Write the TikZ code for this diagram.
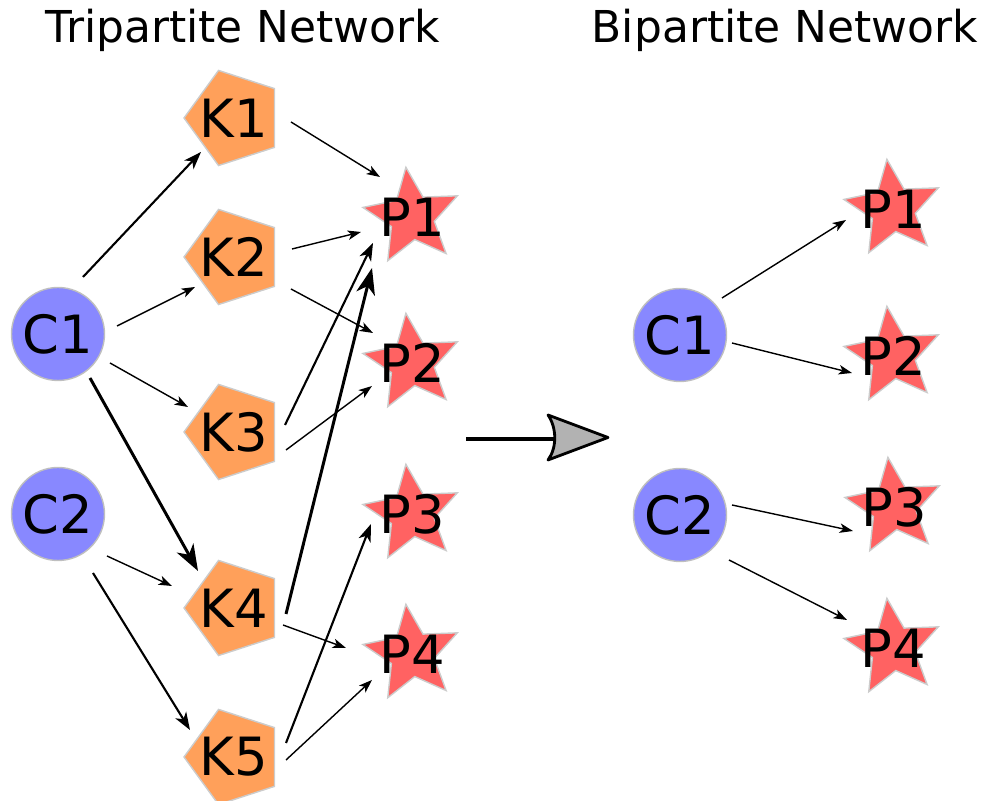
\documentclass[tikz,border=0pt]{standalone}
\usepackage{fontspec}
\setmainfont{DejaVu Sans}
\usetikzlibrary{shapes.geometric,arrows.meta,calc}

\definecolor{cblue}{RGB}{136,136,255}
\definecolor{korange}{RGB}{255,160,90}
\definecolor{pred}{RGB}{255,98,98}

\tikzset{
	cnode/.style={circle, fill=cblue, draw=black!25, line width=0.4pt, minimum size=0.93cm, inner sep=0pt},
	knode/.style={regular polygon, regular polygon sides=5, shape border rotate=90, fill=korange, draw=black!20, line width=0.4pt, minimum size=1.0cm, inner sep=0pt},
	pnode/.style={star, star points=5, star point ratio=2.2, shape border rotate=7, fill=pred, draw=black!20, line width=0.4pt, minimum size=1.0cm, inner sep=0pt},
	every label/.style={font=\fontsize{15}{18}\selectfont, inner sep=0pt},
	title/.style={font=\fontsize{12.5}{15}\selectfont, anchor=base, inner sep=0pt},
	thinedge/.style={line width=0.4pt, -{Stealth[length=3.8pt, width=2.7pt, inset=1pt]}},
	midedge/.style={line width=0.6pt, -{Stealth[length=5pt, width=3.6pt, inset=1.4pt]}},
	thickedge/.style={line width=0.85pt, -{Stealth[length=7.5pt, width=5.4pt, inset=2.2pt]}}
}

\begin{document}
\begin{tikzpicture}

	\useasboundingbox (0,0) rectangle (9.84,-8.01);

	\node[title] (ttri) at (2.43,-0.43) {Tripartite Network};
	\node[title] (tbi) at (7.85,-0.43) {Bipartite Network};

	% tripartite
	\node[cnode, label=center:C1] (c1l) at (0.58,-3.34) {};
	\node[cnode, label=center:C2] (c2l) at (0.58,-5.14) {};

	\node[knode, label=center:K1] (k1) at (2.34,-1.18) {};
	\node[knode, label=center:K2] (k2) at (2.34,-2.57) {};
	\node[knode, label=center:K3] (k3) at (2.34,-4.32) {};
	\node[knode, label=center:K4] (k4) at (2.34,-6.08) {};
	\node[knode, label=center:K5] (k5) at (2.34,-7.57) {};

	\node[pnode, label=center:P1] (p1l) at (4.12,-2.17) {};
	\node[pnode, label=center:P2] (p2l) at (4.12,-3.63) {};
	\node[pnode, label=center:P3] (p3l) at (4.12,-5.14) {};
	\node[pnode, label=center:P4] (p4l) at (4.12,-6.54) {};

	\draw[midedge] ($(c1l)+(0.25,0.57)$) -- ($(k1)+(-0.33,-0.34)$);
	\draw[thinedge] ($(c1l)+(0.59,0.08)$) -- ($(k2)+(-0.39,-0.30)$);
	\draw[thinedge] ($(c1l)+(0.52,-0.29)$) -- ($(k3)+(-0.46,0.25)$);
	\draw[thickedge] ($(c1l)+(0.32,-0.44)$) -- ($(k4)+(-0.36,0.37)$);
	\draw[thinedge] ($(c2l)+(0.49,-0.42)$) -- ($(k4)+(-0.62,0.22)$);
	\draw[midedge] ($(c2l)+(0.35,-0.59)$) -- ($(k5)+(-0.44,0.27)$);

	\draw[thinedge] ($(k1)+(0.57,-0.04)$) -- ($(p1l)+(-0.32,0.40)$);
	\draw[thinedge] ($(k2)+(0.58,0.08)$) -- ($(p1l)+(-0.51,-0.15)$);
	\draw[thinedge] ($(k2)+(0.57,-0.32)$) -- ($(p2l)+(-0.39,0.30)$);
	\draw[midedge] ($(k3)+(0.51,0.07)$) -- ($(p1l)+(-0.39,-0.26)$);
	\draw[thinedge] ($(k3)+(0.52,-0.18)$) -- ($(p2l)+(-0.40,-0.23)$);
	\draw[thickedge] ($(k4)+(0.52,-0.06)$) -- ($(p1l)+(-0.40,-0.51)$);
	\draw[thinedge] ($(k4)+(0.49,-0.17)$) -- ($(p4l)+(-0.66,0.06)$);
	\draw[midedge] ($(k5)+(0.52,0.14)$) -- ($(p3l)+(-0.41,-0.10)$);
	\draw[thinedge] ($(k5)+(0.52,-0.03)$) -- ($(p4l)+(-0.40,-0.26)$);

	% big arrow
	\draw[line width=1.1pt] (4.66,-4.39) -- (5.54,-4.39);
	\filldraw[fill=black!30, line width=0.8pt, line join=round] (6.08,-4.375) -- (5.48,-4.15) .. controls (5.57,-4.28) and (5.57,-4.48) .. (5.48,-4.60) -- cycle;

	% bipartite
	\node[cnode, label=center:C1] (c1r) at (6.80,-3.35) {};
	\node[cnode, label=center:C2] (c2r) at (6.80,-5.15) {};

	\node[pnode, label=center:P1] (p1r) at (8.93,-2.09) {};
	\node[pnode, label=center:P2] (p2r) at (8.93,-3.56) {};
	\node[pnode, label=center:P3] (p3r) at (8.94,-5.07) {};
	\node[pnode, label=center:P4] (p4r) at (8.93,-6.48) {};

	\draw[thinedge] ($(c1r)+(0.42,0.37)$) -- ($(p1r)+(-0.47,-0.11)$);
	\draw[thinedge] ($(c1r)+(0.52,-0.08)$) -- ($(p2r)+(-0.41,-0.17)$);
	\draw[thinedge] ($(c2r)+(0.52,0.10)$) -- ($(p3r)+(-0.41,-0.24)$);
	\draw[thinedge] ($(c2r)+(0.49,-0.45)$) -- ($(p4r)+(-0.46,0.28)$);

\end{tikzpicture}
\end{document}
